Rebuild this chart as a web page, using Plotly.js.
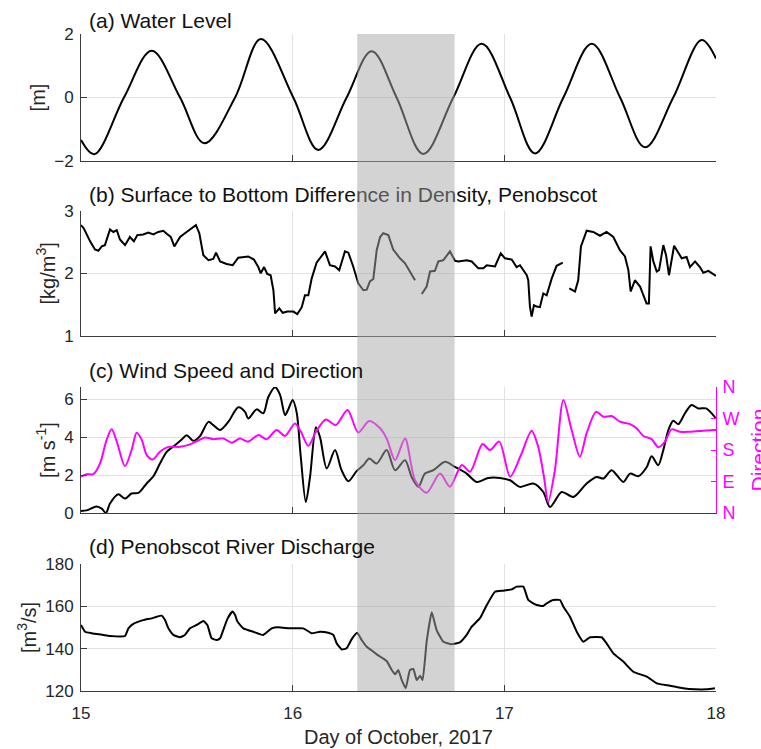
<!DOCTYPE html>
<html><head><meta charset="utf-8">
<script src="https://cdn.plot.ly/plotly-3.0.1.min.js"></script>
<style>html,body{margin:0;padding:0;background:#fff;} #chart{width:761px;height:749px;}</style>
</head><body><div id="chart"></div>
<script>
// ---------- data ----------
const dayTicks = [15, 16, 17, 18];
const shadeDays = [16.305, 16.765];

// (a) water level [m]
const wlDay = [15.0, 15.063, 15.203, 15.334, 15.468, 15.583, 15.728, 15.850, 16.003, 16.121, 16.255, 16.373, 16.491, 16.617, 16.759, 16.893, 17.027, 17.145, 17.279, 17.413, 17.547, 17.665, 17.798, 17.932, 18.0];
const wlVal = [-1.34, -1.79, 0, 1.47, 0, -1.44, 0, 1.84, 0, -1.65, 0, 1.46, 0, -1.78, 0, 1.69, 0, -1.76, 0, 1.69, 0, -1.57, 0, 1.81, 1.23];

// (b) surface-bottom density difference [kg/m3] (null = data gap)
const rhoDay = [15.000,15.013,15.043,15.066,15.082,15.098,15.113,15.137,15.153,15.169,15.184,15.208,15.231,15.250,15.266,15.294,15.318,15.342,15.365,15.389,15.405,15.424,15.441,15.468,15.499,15.543,15.559,15.578,15.602,15.625,15.638,15.657,15.688,15.717,15.743,15.790,15.817,15.838,15.849,15.865,15.880,15.896,15.909,15.917,15.937,15.953,15.975,16.003,16.022,16.043,16.058,16.074,16.090,16.113,16.153,16.176,16.200,16.220,16.247,16.263,16.286,16.310,16.334,16.350,16.365,16.381,16.397,16.413,16.428,16.452,16.475,16.507,16.531,16.554,16.578,16.594,16.610,16.633,16.649,16.672,16.688,16.712,16.743,16.767,16.783,16.822,16.846,16.877,16.901,16.917,16.956,16.983,17.003,17.035,17.058,17.074,17.090,17.106,17.113,17.121,17.129,17.140,17.153,17.168,17.184,17.200,17.224,17.247,17.276,17.290,17.307,17.334,17.349,17.362,17.389,17.420,17.452,17.483,17.515,17.546,17.570,17.586,17.597,17.617,17.641,17.657,17.672,17.683,17.691,17.704,17.720,17.731,17.751,17.764,17.778,17.802,17.822,17.838,17.861,17.877,17.901,17.924,17.940,17.964,18.000];
const rhoVal = [2.77,2.72,2.51,2.38,2.36,2.43,2.45,2.70,2.66,2.69,2.54,2.45,2.58,2.51,2.61,2.62,2.65,2.62,2.66,2.68,2.63,2.58,2.43,2.58,2.66,2.77,2.64,2.29,2.21,2.23,2.33,2.19,2.15,2.13,2.25,2.27,2.22,2.10,2.00,2.10,1.99,1.97,1.73,1.36,1.44,1.37,1.39,1.39,1.35,1.46,1.65,1.65,1.92,2.17,2.35,2.13,2.11,2.05,2.35,2.33,2.11,1.84,1.73,1.74,1.87,1.91,2.37,2.58,2.64,2.61,2.38,2.24,2.16,2.03,1.89,null,1.67,1.79,2.03,2.04,2.19,2.21,2.35,2.20,2.19,2.21,2.19,2.08,2.08,2.13,2.11,2.32,2.24,2.22,2.10,2.13,2.05,1.97,1.89,1.47,1.31,1.49,1.47,1.46,1.68,1.65,1.92,2.12,2.17,null,1.76,1.71,1.89,2.43,2.68,2.66,2.60,2.66,2.58,2.37,2.27,2.05,1.71,1.89,1.79,1.65,1.52,1.52,2.43,2.19,2.03,2.05,2.45,2.29,1.97,2.44,2.32,2.24,2.26,2.10,2.19,2.10,2.01,2.04,1.96];

// (c) wind speed [m/s]
const wsDay = [15.000,15.027,15.074,15.098,15.118,15.137,15.176,15.208,15.239,15.271,15.310,15.342,15.373,15.405,15.444,15.476,15.499,15.531,15.562,15.602,15.625,15.657,15.696,15.743,15.775,15.790,15.830,15.861,15.885,15.917,15.940,15.964,15.979,16.000,16.019,16.038,16.062,16.082,16.110,16.129,16.161,16.200,16.231,16.263,16.302,16.334,16.362,16.397,16.444,16.484,16.531,16.562,16.594,16.625,16.665,16.720,16.767,16.822,16.869,16.924,16.980,17.027,17.074,17.137,17.184,17.216,17.271,17.326,17.389,17.436,17.468,17.507,17.562,17.594,17.633,17.673,17.696,17.727,17.751,17.775,17.798,17.822,17.853,17.885,17.916,17.953,18.000];
const wsVal = [0.11,0.14,0.35,0.23,0.00,0.50,0.99,0.76,1.03,1.06,1.56,1.94,2.61,3.23,3.58,3.88,4.11,3.81,4.06,4.81,4.64,4.38,4.81,5.58,5.34,4.99,5.47,5.26,6.12,6.64,6.25,5.17,5.46,5.97,5.30,3.00,0.58,1.90,4.53,4.02,2.35,3.32,2.26,1.68,2.21,2.52,2.88,2.61,3.32,2.26,2.79,1.90,1.38,2.08,2.26,2.70,2.43,2.08,1.64,1.85,1.85,1.73,1.38,1.56,1.11,0.32,1.11,0.85,1.56,1.90,1.82,2.26,1.64,2.08,1.94,2.43,3.00,2.52,3.32,4.38,4.87,4.69,5.26,5.70,5.52,5.52,4.99];

// (c) wind direction [deg, 0 = N]
const wdDay = [15.000,15.027,15.058,15.090,15.121,15.145,15.169,15.208,15.239,15.263,15.287,15.310,15.339,15.373,15.413,15.468,15.515,15.554,15.586,15.625,15.673,15.712,15.751,15.790,15.838,15.877,15.924,15.964,16.011,16.039,16.074,16.110,16.157,16.204,16.259,16.310,16.361,16.413,16.444,16.484,16.531,16.578,16.633,16.696,16.743,16.799,16.838,16.897,16.932,16.976,17.027,17.078,17.129,17.160,17.187,17.207,17.239,17.279,17.318,17.357,17.389,17.433,17.468,17.507,17.546,17.594,17.625,17.657,17.696,17.727,17.759,17.790,17.830,17.877,17.940,17.987,18.000];
const wdVal = [104,111,111,142,209,239,204,134,180,229,209,166,153,175,189,189,196,207,216,211,213,201,213,204,223,211,237,220,256,232,192,232,267,251,294,230,263,242,213,151,213,94,58,113,75,137,118,197,180,204,104,165,235,189,104,32,123,323,237,161,228,289,275,277,261,254,242,220,211,188,204,239,232,232,235,237,237];
const dirTickVals = [0, 90, 180, 270, 360];
const dirTickText = ['N', 'E', 'S', 'W', 'N'];

// (d) Penobscot River discharge [m3/s]
const qDay = [15.000,15.019,15.050,15.105,15.137,15.208,15.224,15.247,15.294,15.334,15.358,15.381,15.397,15.413,15.436,15.468,15.491,15.515,15.547,15.578,15.597,15.617,15.641,15.657,15.672,15.693,15.715,15.728,15.739,15.767,15.814,15.861,15.901,15.932,15.987,16.050,16.090,16.129,16.168,16.192,16.208,16.232,16.255,16.279,16.305,16.326,16.350,16.381,16.397,16.444,16.468,16.484,16.499,16.515,16.534,16.554,16.570,16.586,16.602,16.614,16.633,16.657,16.680,16.712,16.751,16.790,16.822,16.846,16.885,16.917,16.956,16.995,17.035,17.058,17.090,17.113,17.153,17.184,17.200,17.231,17.263,17.279,17.310,17.342,17.373,17.405,17.460,17.483,17.515,17.562,17.609,17.673,17.720,17.783,17.845,17.901,17.956,17.995];
const qVal = [151.2,148.0,147.3,146.5,146.0,146.0,149.6,151.7,153.5,154.3,155.1,155.6,153.5,149.6,146.5,145.4,146.5,149.6,151.2,153.1,151.2,144.9,144.1,144.9,148.8,154.3,157.5,155.9,152.8,149.6,148.0,146.5,149.6,150.1,149.6,149.6,147.3,148.0,147.5,146.5,142.5,139.6,140.2,144.5,147.5,144.1,140.9,138.6,137.3,134.2,129.9,127.9,129.9,125.2,121.3,129.9,130.4,125.2,127.2,125.2,143.3,157.2,148.8,143.3,142.1,143.0,146.5,150.4,154.4,160.6,166.9,167.4,168.0,169.3,169.3,163.0,160.6,160.2,161.4,163.0,163.0,159.8,155.1,148.0,143.3,145.4,145.4,142.5,137.8,133.9,129.1,126.8,123.6,122.5,121.3,120.8,120.8,121.3];

// ---------- styling ----------
const FONT = 'Liberation Sans, Arial, Helvetica, sans-serif';
const AXC = '#3c3c3c', GRID = '#e2e2e2', TXT = '#262626', MAG = '#ff00ff';

function xAxis(anchor, withLabels) {
  const a = {
    anchor: anchor, domain: [0, 1], range: [15, 18], tickvals: dayTicks,
    ticks: 'inside', ticklen: 6, tickcolor: AXC, tickwidth: 1,
    showline: true, linecolor: AXC, linewidth: 1,
    showgrid: true, gridcolor: GRID, gridwidth: 1, zeroline: false,
    showticklabels: withLabels, tickfont: {family: FONT, size: 17, color: TXT},
    ticklabelstandoff: 7,
    fixedrange: true
  };
  if (withLabels) a.title = {text: 'Day of October, 2017', font: {family: FONT, size: 20, color: TXT}, standoff: 7};
  return a;
}
function yAxis(anchor, domain, range, tickvals, title) {
  return {
    anchor: anchor, domain: domain, range: range, tickvals: tickvals,
    ticks: 'inside', ticklen: 6, tickcolor: AXC, tickwidth: 1,
    showline: true, linecolor: AXC, linewidth: 1,
    showgrid: true, gridcolor: GRID, gridwidth: 1, zeroline: false,
    tickfont: {family: FONT, size: 17, color: TXT},
    ticklabelstandoff: 3,
    title: {text: title, font: {family: FONT, size: 20, color: TXT}, standoff: 3},
    fixedrange: true
  };
}
const blackLine = {color: '#000000', width: 2};

const traces = [
  {x: wlDay, y: wlVal, xaxis: 'x', yaxis: 'y', type: 'scatter', mode: 'lines', line: Object.assign({shape: 'spline', smoothing: 1}, blackLine), hoverinfo: 'skip'},
  {x: rhoDay, y: rhoVal, xaxis: 'x2', yaxis: 'y2', type: 'scatter', mode: 'lines', line: blackLine, connectgaps: false, hoverinfo: 'skip'},
  {x: wsDay, y: wsVal, xaxis: 'x3', yaxis: 'y3', type: 'scatter', mode: 'lines', line: Object.assign({shape: 'spline', smoothing: 0.8}, blackLine), hoverinfo: 'skip'},
  {x: wdDay, y: wdVal, xaxis: 'x3', yaxis: 'y5', type: 'scatter', mode: 'lines', line: {color: MAG, width: 2, shape: 'spline', smoothing: 0.8}, hoverinfo: 'skip'},
  {x: qDay, y: qVal, xaxis: 'x4', yaxis: 'y4', type: 'scatter', mode: 'lines', line: Object.assign({shape: 'spline', smoothing: 0.4}, blackLine), hoverinfo: 'skip'}
];

const dA = [0.8067, 1], dB = [0.5403, 0.7311], dC = [0.2709, 0.4627], dD = [0, 0.1933];

function panelTitle(xref, yref, text, shift) {
  return {xref: xref + ' domain', yref: yref + ' domain', x: 0.009, y: 1, xanchor: 'left', yanchor: 'middle',
          align: 'left', yshift: shift, showarrow: false, text: text,
          font: {family: FONT, size: 21, color: '#111111'}};
}

const layout = {
  width: 761, height: 749,
  margin: {l: 81, r: 45, t: 34, b: 58, pad: 0},
  paper_bgcolor: '#ffffff', plot_bgcolor: 'rgba(0,0,0,0)',
  showlegend: false,
  font: {family: FONT, color: TXT},
  xaxis: xAxis('y', false),
  xaxis2: xAxis('y2', false),
  xaxis3: xAxis('y3', false),
  xaxis4: xAxis('y4', true),
  yaxis: yAxis('x', dA, [-2, 2], [-2, 0, 2], '[m]'),
  yaxis2: yAxis('x2', dB, [1, 3], [1, 2, 3], '[kg/m<sup>3</sup>]'),
  yaxis3: yAxis('x3', dC, [0, 6.65], [0, 2, 4, 6], '[m s<sup>-1</sup>]'),
  yaxis4: yAxis('x4', dD, [120, 180], [120, 140, 160, 180], '[m<sup>3</sup>/s]'),
  yaxis5: {
    anchor: 'x3', overlaying: 'y3', side: 'right', range: [0, 360],
    tickvals: dirTickVals, ticktext: dirTickText,
    ticks: 'inside', ticklen: 5, tickcolor: MAG, showline: true, linecolor: MAG, linewidth: 1,
    showgrid: false, zeroline: false,
    tickfont: {family: FONT, size: 18, color: MAG},
    ticklabelstandoff: 2,
    fixedrange: true
  },
  shapes: [{
    type: 'rect', xref: 'x4', yref: 'paper', x0: shadeDays[0], x1: shadeDays[1], y0: 0, y1: 1,
    fillcolor: 'rgba(168,168,168,0.5)', line: {width: 0}, layer: 'above'
  }],
  annotations: [
    panelTitle('x', 'y', '(a) Water Level', 14),
    panelTitle('x2', 'y2', '(b) Surface to Bottom Differe<span style="color:#555555">nce in Den</span>sity, Penobscot', 16),
    panelTitle('x3', 'y3', '(c) Wind Speed and Direction', 17),
    panelTitle('x4', 'y4', '(d) Penobscot River Discharge', 18),
    // right-hand axis title of panel (c); it runs past the page edge as in the original
    {xref: 'x3 domain', yref: 'y3 domain', x: 1, y: 0.5, xanchor: 'left', yanchor: 'middle',
     xshift: 29, textangle: -90, showarrow: false, text: 'Direction',
     font: {family: FONT, size: 21, color: MAG}}
  ]
};

Plotly.newPlot('chart', traces, layout, {displayModeBar: false, staticPlot: true});
</script>
</body></html>
